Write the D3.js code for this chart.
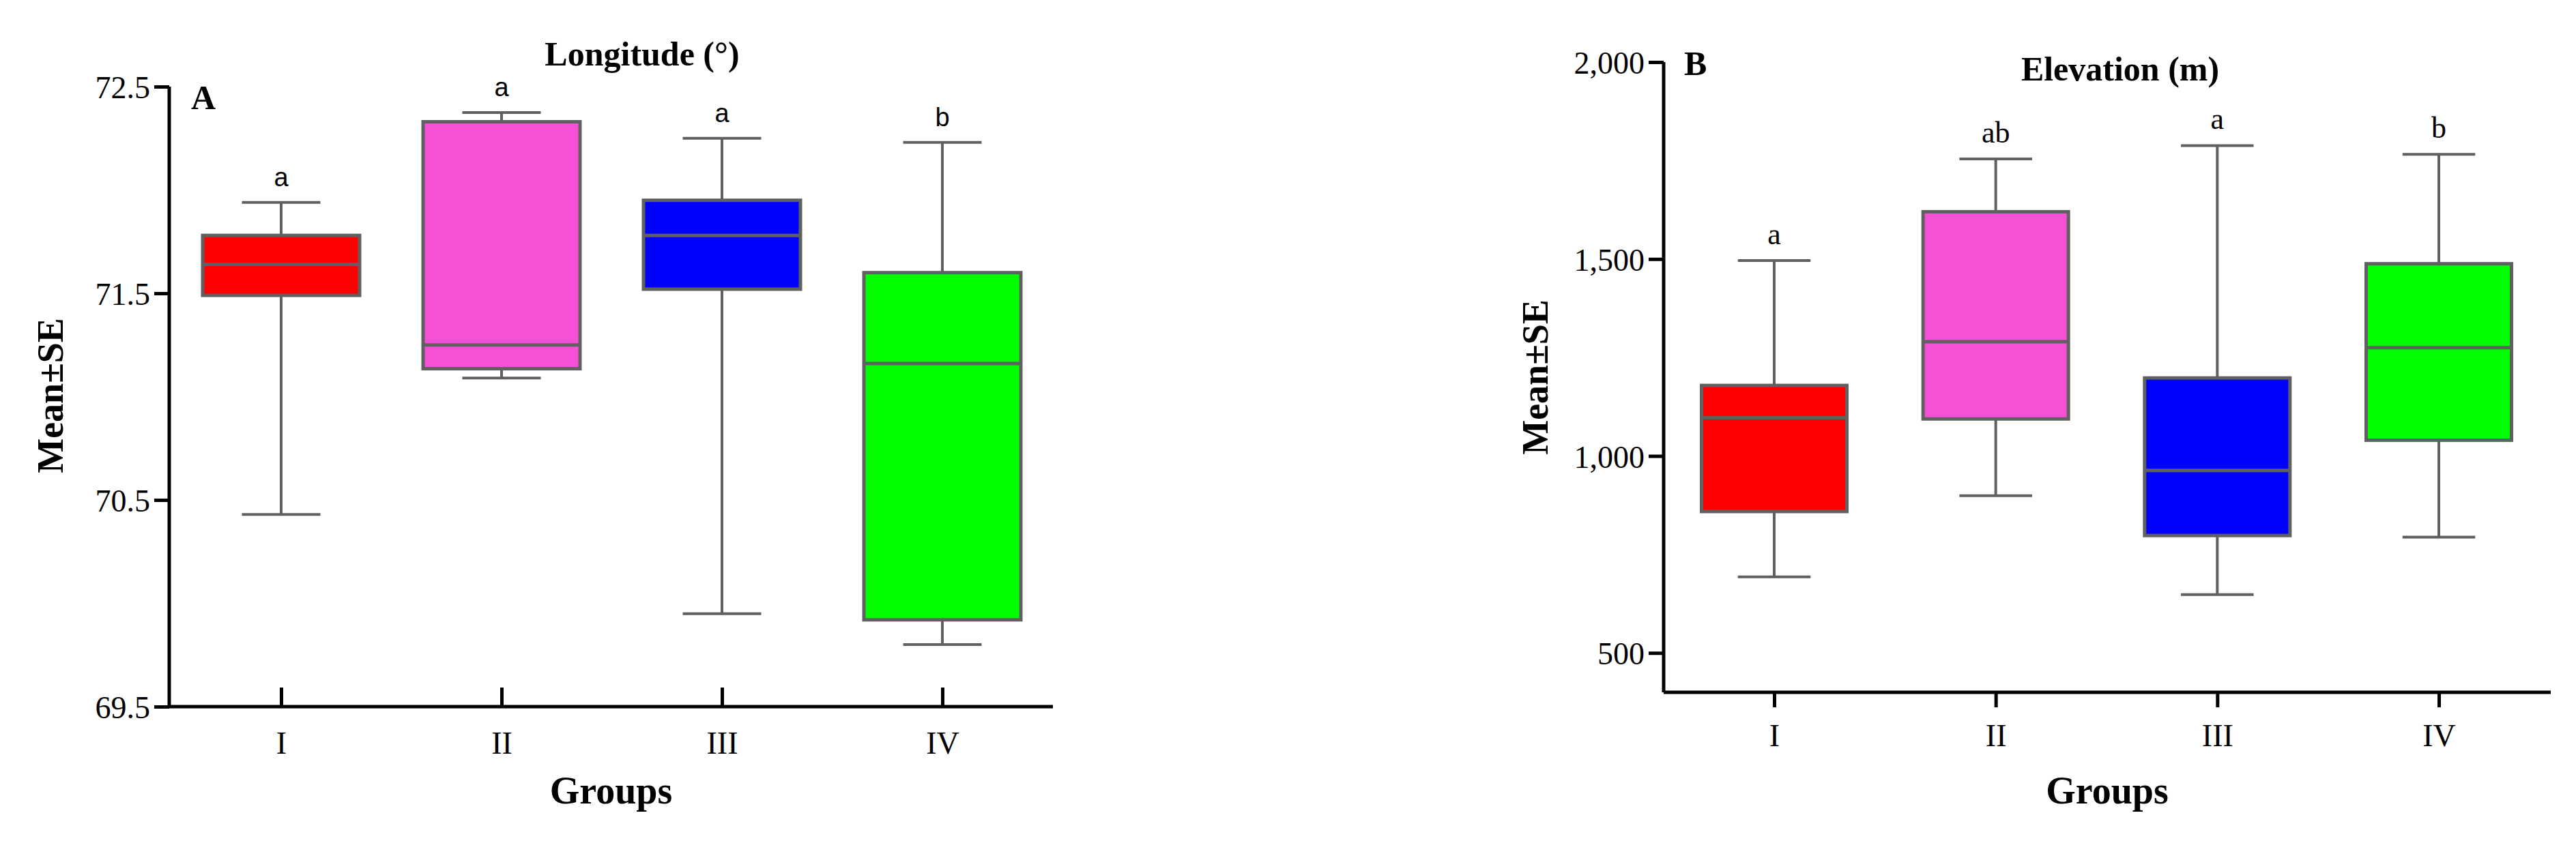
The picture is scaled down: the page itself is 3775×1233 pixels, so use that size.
<!DOCTYPE html>
<html><head><meta charset="utf-8">
<script src="https://cdn.jsdelivr.net/npm/d3@7"></script>
<style>body{margin:0;background:#fff}</style>
</head><body>
<svg id="chart" width="3775" height="1233"></svg>
<script>
const groups = ["I", "II", "III", "IV"];
const colors = ["#ff0000", "#f550d6", "#0000ff", "#00ff00"];

// panel A: longitude
const lonLow = [70.43, 71.09, 69.95, 69.80];
const lonQ1 = [71.49, 71.135, 71.52, 69.92];
const lonMed = [71.64, 71.25, 71.78, 71.16];
const lonQ3 = [71.78, 72.33, 71.95, 71.60];
const lonHigh = [71.94, 72.375, 72.25, 72.23];
const lonLetters = ["a", "a", "a", "b"];
const lonTicks = [69.5, 70.5, 71.5, 72.5];

// panel B: elevation
const eleLow = [693, 899, 648, 794];
const eleQ1 = [859, 1094, 798, 1040];
const eleMed = [1097, 1290, 963, 1275];
const eleQ3 = [1179, 1620, 1198, 1488];
const eleHigh = [1496, 1754, 1788, 1766];
const eleLetters = ["a", "ab", "a", "b"];
const eleTicks = [500, 1000, 1500, 2000];

const svg = d3.select("#chart");
const serif = "'Liberation Serif', 'Times New Roman', serif";

function panel(o) {
  const g = svg.append("g");
  const y = d3.scaleLinear().domain(o.domain).range([o.bottom, o.top]);
  const x = d3.scalePoint().domain(groups).range(o.xr);
  const boxW = o.boxW;
  const rows = groups.map((k, i) => ({k, i, low: o.low[i], q1: o.q1[i], med: o.med[i], q3: o.q3[i], high: o.high[i]}));

  // whiskers
  const wg = g.selectAll(".w").data(rows).join("g").attr("stroke", "#606060").attr("stroke-width", 4);
  wg.append("line").attr("x1", d => x(d.k)).attr("x2", d => x(d.k)).attr("y1", d => y(d.low)).attr("y2", d => y(d.high));
  wg.append("line").attr("x1", d => x(d.k) - boxW / 4).attr("x2", d => x(d.k) + boxW / 4).attr("y1", d => y(d.low)).attr("y2", d => y(d.low));
  wg.append("line").attr("x1", d => x(d.k) - boxW / 4).attr("x2", d => x(d.k) + boxW / 4).attr("y1", d => y(d.high)).attr("y2", d => y(d.high));
  // boxes
  g.selectAll(".b").data(rows).join("rect")
    .attr("x", d => x(d.k) - boxW / 2).attr("width", boxW)
    .attr("y", d => y(d.q3)).attr("height", d => y(d.q1) - y(d.q3))
    .attr("fill", d => colors[d.i]).attr("stroke", "#606060").attr("stroke-width", 5);
  g.selectAll(".m").data(rows).join("line")
    .attr("x1", d => x(d.k) - boxW / 2).attr("x2", d => x(d.k) + boxW / 2)
    .attr("y1", d => y(d.med)).attr("y2", d => y(d.med))
    .attr("stroke", "#606060").attr("stroke-width", 5);
  // letters
  g.selectAll(".l").data(rows).join("text")
    .attr("x", d => x(d.k)).attr("y", d => y(d.high) - 24)
    .attr("text-anchor", "middle").attr("font-family", o.letterFont).attr("font-size", o.letterSize)
    .text(d => o.letters[d.i]);

  // axes
  const ya = g.append("g").attr("transform", `translate(${o.ax},0)`)
    .call(d3.axisLeft(y).tickValues(o.ticks).tickSize(22).tickPadding(6));
  const xa = g.append("g").attr("transform", `translate(0,${o.bottom})`)
    .call(d3.axisBottom(x).tickSize(o.xTickIn ? -28 : 22).tickPadding(o.xTickIn ? 36 : 24).tickSizeOuter(0));
  xa.select(".domain").attr("d", `M${o.ax},0H${o.xEnd}`);
  ya.select(".domain").attr("d", `M0,${y(o.domain[0])}V${o.top}`);
  [ya, xa].forEach(a => {
    a.selectAll("path,line").attr("stroke", "#000").attr("stroke-width", 5);
    a.selectAll("text").attr("font-family", serif).attr("font-size", 46).attr("fill", "#000");
  });
  ya.selectAll("text").attr("dy", "0.36em");

  // titles
  const bold = t => t.attr("font-family", serif).attr("font-weight", "bold").attr("fill", "#000");
  bold(g.append("text")).attr("x", o.titleX).attr("y", o.titleY).attr("text-anchor", "middle").attr("font-size", 50).text(o.title);
  bold(g.append("text")).attr("x", o.tagX).attr("y", o.tagY).attr("font-size", 50).text(o.tag);
  bold(g.append("text")).attr("x", (o.ax + o.xEnd) / 2).attr("y", 1178).attr("text-anchor", "middle").attr("font-size", 56).text("Groups");
  bold(g.append("text")).attr("transform", `translate(${o.ylX},${o.ylY}) rotate(-90)`).attr("text-anchor", "middle").attr("font-size", 54).text("Mean±SE");
}

panel({domain: [69.5, 72.5], top: 127, bottom: 1036, ax: 248, xEnd: 1543, xr: [412, 1381], boxW: 230,
  low: lonLow, q1: lonQ1, med: lonMed, q3: lonQ3, high: lonHigh, letters: lonLetters, ticks: lonTicks,
  letterFont: "'Liberation Sans', Arial, sans-serif", letterSize: 38, xTickIn: true,
  title: "Longitude (°)", titleX: 941, titleY: 96, tag: "A", tagX: 280, tagY: 160, ylX: 92, ylY: 580});

panel({domain: [400, 2000], top: 91, bottom: 1015, ax: 2438, xEnd: 3738, xr: [2600, 3574], boxW: 213,
  low: eleLow, q1: eleQ1, med: eleMed, q3: eleQ3, high: eleHigh, letters: eleLetters, ticks: eleTicks,
  letterFont: serif, letterSize: 44, xTickIn: false,
  title: "Elevation (m)", titleX: 3107, titleY: 118, tag: "B", tagX: 2468, tagY: 110, ylX: 2268, ylY: 553});
</script>
</body></html>
